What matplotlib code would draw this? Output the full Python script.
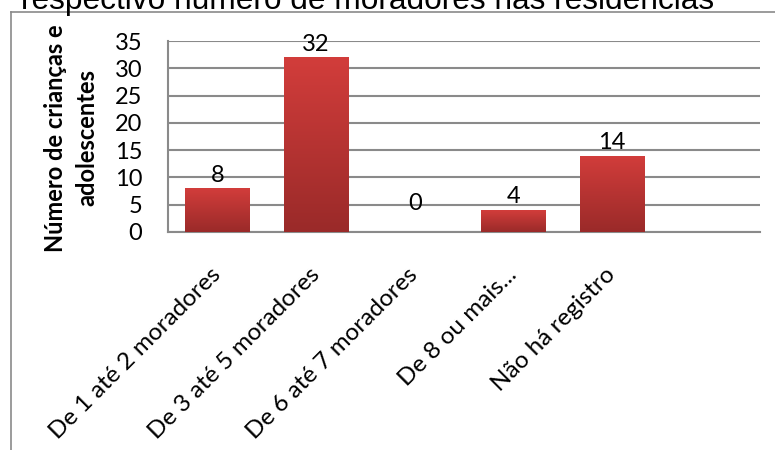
import matplotlib
matplotlib.use("Agg")
import matplotlib.pyplot as plt
import numpy as np
from matplotlib.colors import LinearSegmentedColormap
from matplotlib.lines import Line2D
from matplotlib.transforms import ScaledTranslation

plt.rcParams["font.family"] = ["Lato", "DejaVu Sans"]

# respondents per household size
categories = ["De 1 até 2 moradores", "De 3 até 5 moradores", "De 6 até 7 moradores",
              "De 8 ou mais...", "Não há registro"]
counts = [8, 32, 0, 4, 14]
y_ticks = [0, 5, 10, 15, 20, 25, 30, 35]
title = "respectivo número de moradores nas residências"
y_label = "Número de crianças e\nadolescentes"

grid_color = "#8a8a8a"
bar_cmap = LinearSegmentedColormap.from_list("bar", ["#9a2a29", "#d23d3b"])

fig = plt.figure(figsize=(7.75, 4.5), dpi=100)
ax = fig.add_axes([168 / 775, 1 - 232 / 450, 592 / 775, 191 / 450])

x = np.arange(len(categories))
bars = ax.bar(x, counts, width=0.65, color="#c03634", zorder=2)

# vertical gradient on each bar, dark at the bottom
grad = np.linspace(0, 1, 256).reshape(-1, 1)
for b in bars:
    if b.get_height() <= 0:
        continue
    x0, y0 = b.get_x(), b.get_y()
    im = ax.imshow(grad, cmap=bar_cmap, origin="lower", aspect="auto",
                   extent=(x0, x0 + b.get_width(), y0, y0 + b.get_height()), zorder=3)
    im.set_clip_path(b)

for xi, v in zip(x, counts):
    off = 2 if v > 0 else 13
    ax.annotate(str(v), (xi, v), xytext=(0, off), textcoords="offset points",
                ha="center", va="bottom", fontsize=17, color="black", zorder=4)

ax.set_xlim(-0.5, 5.5)
ax.set_ylim(0, 35)
ax.set_yticks(y_ticks)
ax.set_xticks(x)
ax.set_xticklabels(categories, rotation=45, ha="right", va="center",
                   rotation_mode="anchor", fontsize=17.5)
shift = ScaledTranslation(3 / 100, 0, fig.dpi_scale_trans)
for lab in ax.get_xticklabels():
    lab.set_transform(lab.get_transform() + shift)
ax.tick_params(axis="y", length=0, pad=18.5, labelsize=17)
ax.tick_params(axis="x", length=0, pad=28.5)
ax.yaxis.grid(True, color=grid_color, linewidth=1.5, zorder=0)
ax.set_axisbelow(True)
for side in ["top", "right"]:
    ax.spines[side].set_visible(False)
for side in ["left", "bottom"]:
    ax.spines[side].set_color(grid_color)
    ax.spines[side].set_linewidth(1.5)

fig.text(71 / 775, 1 - 138 / 450, y_label, rotation=90, ha="center", va="center",
         multialignment="center", fontsize=17, fontweight="bold", linespacing=1.45)

# chart title, cut off by the top edge
fig.text(368 / 775, 1 - 8.5 / 450, title, ha="center", va="baseline",
         fontsize=22.8, family="Liberation Sans")

# outer chart border
fig.add_artist(Line2D([11 / 775, 11 / 775], [0, 1 - 12 / 450], color="#8a8a8a", lw=1.2))
fig.add_artist(Line2D([11 / 775, 1], [1 - 12 / 450, 1 - 12 / 450], color="#8a8a8a", lw=1.2))

fig.savefig("out.png", dpi=100)
